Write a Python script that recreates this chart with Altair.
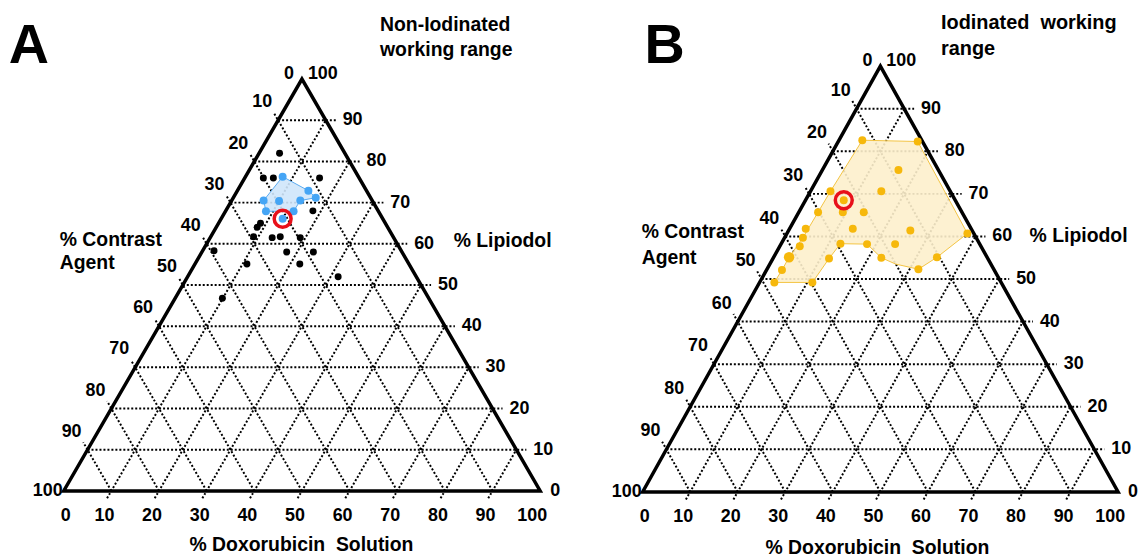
import altair as alt
import pandas as pd

FONT = "Liberation Sans"

TICKS = [10, 20, 30, 40, 50, 60, 70, 80, 90]
DOX_TICKS = [0, 10, 20, 30, 40, 50, 60, 70, 80, 90, 100]

# ---------------- Panel A : non-iodinated ----------------
# values are % Lipiodol and % Doxorubicin solution; % contrast agent = 100 - both
A_TESTED_LIPIODOL = [82, 76, 76, 76, 68, 65, 64, 61.7, 61.5, 61.7, 61.5, 58.3, 58, 58, 55.1, 55.1, 52, 46.8]
A_TESTED_DOX = [4.3, 3.9, 6.0, 15.7, 18.3, 8.8, 8.6, 9.0, 13.0, 14.6, 18.9, 2.4, 17.8, 23.4, 10.9, 22.0, 31.6, 9.9]
A_RANGE_LIPIODOL = [76.3, 72.9, 71.2, 70.5, 67.9, 67.9, 70.5]
A_RANGE_DOX = [7.8, 14.9, 17.3, 14.4, 14.3, 8.5, 6.7]
A_INNER_LIPIODOL = [70.4]
A_INNER_DOX = [10.0]
A_CHOSEN_LIPIODOL = [66.1]
A_CHOSEN_DOX = [12.9]

# ---------------- Panel B : iodinated ----------------
B_POINT_LIPIODOL = [82.6, 82.3, 75.6, 70.6, 70.6, 65.7, 65.7, 65.7, 61.8, 61.8, 61.4, 60.7, 59.7, 58.3,
                    58.2, 58.2, 57.7, 54.8, 55.0, 55.1, 52.1, 52.3, 49.2, 49.2]
B_POINT_DOX = [4.9, 16.7, 16.0, 14.9, 4.2, 9.25, 13.65, 4.05, 3.4, 13.3, 25.6, 37.95, 3.85, 12.45,
               18.1, 24.0, 4.2, 11.8, 22.7, 34.35, 3.25, 31.85, 3.1, 11.1]
B_BIG_LIPIODOL = [55.1]
B_BIG_DOX = [3.25]
B_RANGE_LIPIODOL = [82.6, 82.3, 60.7, 55.1, 52.3, 53.5, 55.0, 58.2, 58.3, 54.8, 49.2, 49.2, 52.1, 55.1,
                    59.7, 65.7, 70.6]
B_RANGE_DOX = [4.9, 16.7, 37.95, 34.35, 31.85, 26.5, 22.7, 18.1, 12.45, 11.8, 11.1, 3.1, 3.25, 3.25,
               3.85, 4.05, 4.2]
B_CHOSEN_LIPIODOL = [68.5]
B_CHOSEN_DOX = [8.05]


def to_xy(lip, dox):
    return pd.DataFrame({
        "lipiodol": lip,
        "doxorubicin": dox,
        "contrast": [100 - l - d for l, d in zip(lip, dox)],
        "x": [d + l / 2 for l, d in zip(lip, dox)],
        "y": list(lip),
        "i": list(range(len(lip))),
    })


def closed(lip, dox):
    return to_xy(list(lip) + [lip[0]], list(dox) + [dox[0]])


def grid_df(ext=1.8, ext_r=2.1):
    rows = []
    for t in TICKS:
        rows.append(dict(x=t / 2, y=t, x2=100 - t / 2 + ext_r, y2=t))             # const lipiodol
        rows.append(dict(x=t - ext / 2, y=-ext, x2=t + (100 - t) / 2, y2=100 - t))  # const doxorubicin
        rows.append(dict(x=100 - t, y=0, x2=-ext + (100 - t + ext) / 2, y2=100 - t + ext))  # const contrast
    return pd.DataFrame(rows)


OUTLINE = pd.DataFrame({"x": [0, 100, 50, 0, 100], "y": [0, 0, 100, 0, 0], "i": [0, 1, 2, 3, 4]})


def txt(size=18, **kw):
    return dict(font=FONT, fontWeight="bold", fontSize=size, color="black", **kw)


def panel(xdom, ydom, w, h, layers_fn, ann):
    xs = alt.Scale(domain=xdom, nice=False, zero=False)
    ys = alt.Scale(domain=ydom, nice=False, zero=False)

    def enc(**extra):
        e = dict(x=alt.X("x:Q", scale=xs, axis=None), y=alt.Y("y:Q", scale=ys, axis=None))
        e.update(extra)
        return e

    layers = []
    layers.append(alt.Chart(grid_df()).mark_rule(color="black", strokeWidth=2, strokeDash=[2, 2])
                  .encode(**enc(x2="x2:Q", y2="y2:Q")))
    layers.append(alt.Chart(OUTLINE).mark_line(color="black", strokeWidth=3.5, strokeJoin="miter")
                  .encode(**enc(order="i:O")))
    # tick labels
    left = pd.DataFrame({"x": [(100 - t) / 2 for t in TICKS], "y": [100 - t for t in TICKS],
                         "t": [str(t) for t in TICKS]})
    layers.append(alt.Chart(left).mark_text(**txt(dx=-16, dy=-18)).encode(**enc(text="t:N")))
    right = pd.DataFrame({"x": [100 - t / 2 for t in TICKS], "y": TICKS, "t": [str(t) for t in TICKS]})
    layers.append(alt.Chart(right).mark_text(**txt(dx=27)).encode(**enc(text="t:N")))
    bottom = pd.DataFrame({"x": DOX_TICKS, "y": [0] * len(DOX_TICKS), "t": [str(t) for t in DOX_TICKS]})
    layers.append(alt.Chart(bottom[(bottom.x > 0) & (bottom.x < 100)]).mark_text(**txt(dx=-7, dy=25))
                  .encode(**enc(text="t:N")))
    layers.append(alt.Chart(bottom[bottom.x == 0]).mark_text(**txt(dx=2, dy=25)).encode(**enc(text="t:N")))
    layers.append(alt.Chart(bottom[bottom.x == 100]).mark_text(**txt(dx=-8, dy=25)).encode(**enc(text="t:N")))
    corner = pd.DataFrame({"x": [0], "y": [0], "t": ["100"]})
    layers.append(alt.Chart(corner).mark_text(**txt(align="right", dx=-1)).encode(**enc(text="t:N")))
    corner_r = pd.DataFrame({"x": [100], "y": [0], "t": ["0"]})
    layers.append(alt.Chart(corner_r).mark_text(**txt(dx=15)).encode(**enc(text="t:N")))
    top0 = pd.DataFrame({"x": [50], "y": [100], "t": ["0"]})
    layers.append(alt.Chart(top0).mark_text(**txt(dx=-13, dy=-5)).encode(**enc(text="t:N")))
    top100 = pd.DataFrame({"x": [50], "y": [100], "t": ["100"]})
    layers.append(alt.Chart(top100).mark_text(**txt(dx=21, dy=-5)).encode(**enc(text="t:N")))

    layers += layers_fn(enc)

    for (s, px, py, size, align) in ann:
        layers.append(alt.Chart(pd.DataFrame({"t": [s]})).mark_text(**txt(size=size, align=align))
                      .encode(x=alt.value(px), y=alt.value(py), text="t:N"))
    return alt.layer(*layers).properties(width=w, height=h)


def layers_a(enc):
    out = []
    poly = closed(A_RANGE_LIPIODOL, A_RANGE_DOX)
    out.append(alt.Chart(poly).mark_line(fill="#cfe5fb", fillOpacity=0.9, stroke="#5aaaf0", strokeWidth=1)
               .encode(**enc(order="i:Q")))
    out.append(alt.Chart(to_xy(A_TESTED_LIPIODOL, A_TESTED_DOX))
               .mark_point(filled=True, shape="circle", size=49, color="black", opacity=1)
               .encode(**enc()))
    blue = to_xy(A_RANGE_LIPIODOL + A_INNER_LIPIODOL + A_CHOSEN_LIPIODOL,
                 A_RANGE_DOX + A_INNER_DOX + A_CHOSEN_DOX)
    out.append(alt.Chart(blue).mark_point(filled=True, shape="circle", size=64, color="#45a5f5", opacity=1)
               .encode(**enc()))
    out.append(alt.Chart(to_xy(A_CHOSEN_LIPIODOL, A_CHOSEN_DOX))
               .mark_point(filled=False, shape="circle", size=289, stroke="#e8101a", strokeWidth=3.5, opacity=1)
               .encode(**enc()))
    return out


def layers_b(enc):
    out = []
    poly = closed(B_RANGE_LIPIODOL, B_RANGE_DOX)
    out.append(alt.Chart(poly).mark_line(fill="#fdefcc", fillOpacity=0.9, stroke="#f3c443", strokeWidth=1)
               .encode(**enc(order="i:Q")))
    out.append(alt.Chart(to_xy(B_POINT_LIPIODOL, B_POINT_DOX))
               .mark_point(filled=True, shape="circle", size=64, color="#f6b80c", opacity=1)
               .encode(**enc()))
    out.append(alt.Chart(to_xy(B_BIG_LIPIODOL, B_BIG_DOX))
               .mark_point(filled=True, shape="circle", size=110, color="#f6b80c", opacity=1)
               .encode(**enc()))
    out.append(alt.Chart(to_xy(B_CHOSEN_LIPIODOL, B_CHOSEN_DOX))
               .mark_point(filled=True, shape="circle", size=64, color="#f6b80c", opacity=1)
               .encode(**enc()))
    out.append(alt.Chart(to_xy(B_CHOSEN_LIPIODOL, B_CHOSEN_DOX))
               .mark_point(filled=False, shape="circle", size=289, stroke="#e8101a", strokeWidth=3.5, opacity=1)
               .encode(**enc()))
    return out


NB = "\u00a0"
ANN_A = [
    ("A", 21, 37, 56, "center"),
    ("Non-Iodinated", 374, 16, 19.5, "left"),
    ("working" + NB + "range", 374, 41, 19.5, "left"),
    ("% Contrast", 52, 232, 19.5, "left"),
    ("Agent", 52, 255, 19.5, "left"),
    ("% Lipiodol", 448, 233, 19.5, "left"),
    ("%" + NB + "Doxorubicin" + NB + NB + "Solution", 295, 538, 19.5, "center"),
]
ANN_B = [
    ("B", 90, 37, 56, "center"),
    ("Iodinated" + NB * 2 + "working", 368, 14, 20, "left"),
    ("range", 368, 40, 20, "left"),
    ("% Contrast", 67, 224, 19.5, "left"),
    ("Agent", 67, 250, 19.5, "left"),
    ("% Lipiodol", 457, 228, 19.5, "left"),
    ("%" + NB + "Doxorubicin" + NB + NB + "Solution", 304, 541, 19.5, "center"),
]

# panel A : origin (64,492) page, 4.79 px per x-unit, 4.14 px per lipiodol unit
pa = panel([(8 - 64) / 4.79, (578 - 64) / 4.79], [(492 - 551) / 4.14, (492 - 8) / 4.14], 570, 543,
           layers_a, ANN_A)
# panel B : origin (646,493) page, 4.78 px per x-unit, 4.28 px per lipiodol unit
pb = panel([(578 - 646) / 4.78, (1139 - 646) / 4.78], [(493 - 551) / 4.28, (493 - 8) / 4.28], 561, 543,
           layers_b, ANN_B)

chart = (alt.hconcat(pa, pb, spacing=0)
         .properties(padding=0, background="white")
         .configure_view(stroke=None))

chart.save("out.html", embed_options={"renderer": "svg", "actions": False})
